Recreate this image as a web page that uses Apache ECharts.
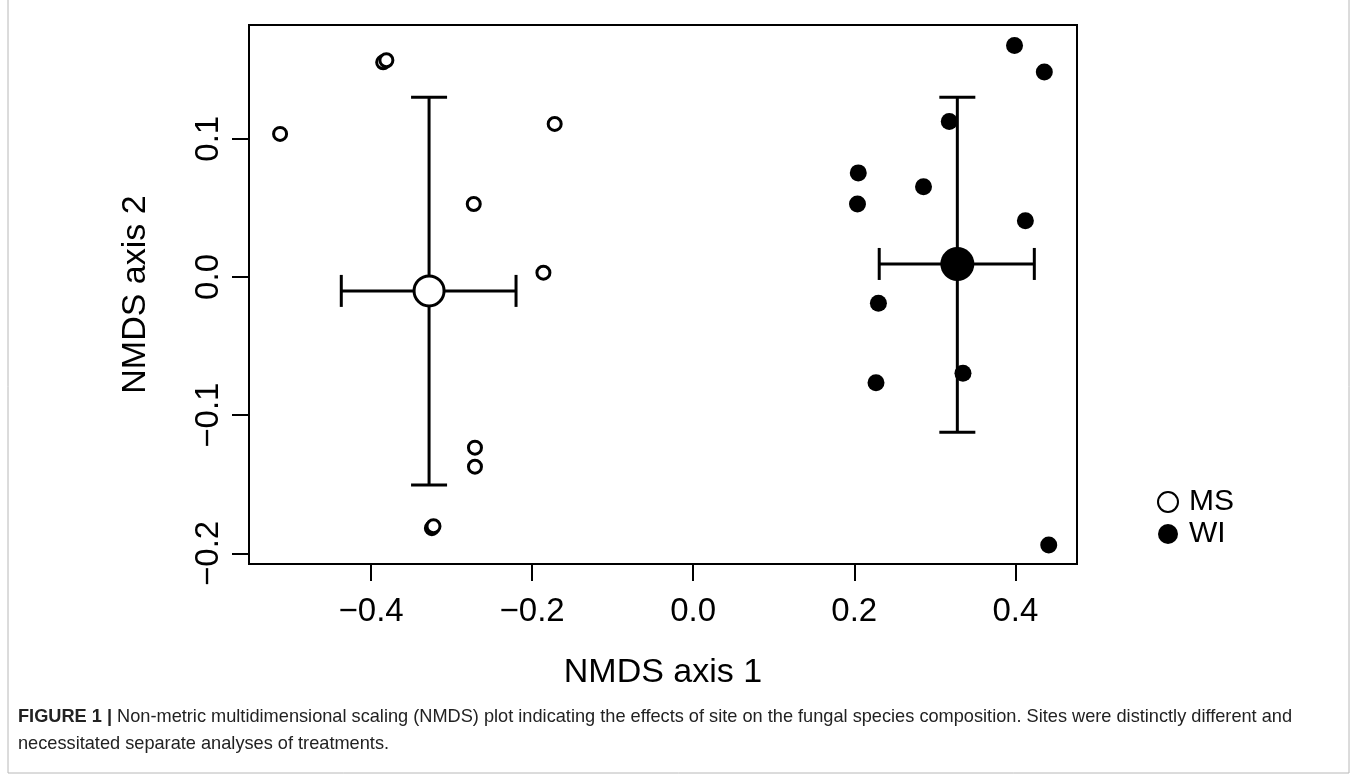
<!DOCTYPE html>
<html>
<head>
<meta charset="utf-8">
<title>NMDS plot</title>
<script src="https://cdn.jsdelivr.net/npm/echarts@6/dist/echarts.min.js"></script>
<style>
  html, body { margin: 0; padding: 0; background: #fff; }
  #chart { width: 1357px; height: 781px; }
</style>
</head>
<body>
<div id="chart"></div>
<script>
// site samples (NMDS scores)
const msX = [-0.513, -0.385, -0.381, -0.172, -0.2725, -0.186, -0.271, -0.271, -0.3245, -0.3225];
const msY = [0.1035, 0.1553, 0.1568, 0.1107, 0.0528, 0.0031, -0.1235, -0.1373, -0.1818, -0.1804];
const wiX = [0.399, 0.436, 0.318, 0.205, 0.204, 0.286, 0.4125, 0.230, 0.227, 0.335, 0.4415];
const wiY = [0.1674, 0.1483, 0.1124, 0.0753, 0.0528, 0.0653, 0.0407, -0.019, -0.0765, -0.0697, -0.194];

// group centroids with error bars
const groups = ['MS', 'WI'];
const centerX = [-0.328, 0.328];
const centerY = [-0.0101, 0.0094];
const xLow = [-0.437, 0.231];
const xHigh = [-0.220, 0.4236];
const yLow = [-0.1505, -0.1124];
const yHigh = [0.130, 0.130];

// axes
const xTicks = [-0.4, -0.2, 0, 0.2, 0.4];
const yTicks = [-0.2, -0.1, 0, 0.1];
const xRange = [-0.5516, 0.4766];
const yRange = [-0.2077, 0.1823];

const FONT = '"Liberation Sans", Arial, Helvetica, sans-serif';
const fmt = (v) => v.toFixed(1).replace('-', '\u2212');

const zip = (a, b) => a.map((v, i) => [v, b[i]]);
const barData = groups.map((g, i) => [centerX[i], centerY[i], xLow[i], xHigh[i], yLow[i], yHigh[i]]);

function renderBars(params, api) {
  const x = api.value(0), y = api.value(1);
  const l = api.coord([api.value(2), y]);
  const r = api.coord([api.value(3), y]);
  const b = api.coord([x, api.value(4)]);
  const t = api.coord([x, api.value(5)]);
  const capW = 18, capH = 16;
  const style = { stroke: '#000', lineWidth: 3 };
  const seg = (x1, y1, x2, y2) => ({ type: 'line', shape: { x1, y1, x2, y2 }, style });
  return {
    type: 'group',
    children: [
      seg(l[0], l[1], r[0], r[1]),
      seg(b[0], b[1], t[0], t[1]),
      seg(l[0], l[1] - capH, l[0], l[1] + capH),
      seg(r[0], r[1] - capH, r[0], r[1] + capH),
      seg(b[0] - capW, b[1], b[0] + capW, b[1]),
      seg(t[0] - capW, t[1], t[0] + capW, t[1]),
    ],
  };
}

const chart = echarts.init(document.getElementById('chart'), null, { renderer: 'canvas' });

chart.setOption({
  animation: false,
  backgroundColor: '#fff',
  textStyle: { fontFamily: FONT },
  grid: {
    show: true,
    left: 249,
    top: 25,
    width: 828,
    height: 539,
    borderColor: '#000',
    borderWidth: 2,
    backgroundColor: 'transparent',
  },
  legend: {
    data: groups,
    orient: 'vertical',
    left: 1152,
    top: 482,
    icon: 'circle',
    itemWidth: 20,
    itemHeight: 20,
    itemGap: 2,
    textStyle: { fontFamily: FONT, fontSize: 30, color: '#000', padding: [0, 0, 0, 6] },
  },
  xAxis: {
    type: 'value',
    min: xRange[0],
    max: xRange[1],
    name: 'NMDS axis 1',
    nameLocation: 'middle',
    nameGap: 92,
    nameTextStyle: { fontFamily: FONT, fontSize: 34, color: '#000' },
    splitLine: { show: false },
    axisLine: { show: false, onZero: false },
    axisTick: {
      show: true,
      length: 17,
      customValues: xTicks,
      lineStyle: { color: '#000', width: 2 },
    },
    axisLabel: {
      customValues: xTicks,
      formatter: fmt,
      margin: 31,
      fontFamily: FONT,
      fontSize: 33,
      color: '#000',
    },
  },
  yAxis: {
    type: 'value',
    min: yRange[0],
    max: yRange[1],
    name: 'NMDS axis 2',
    nameLocation: 'middle',
    nameGap: 96,
    nameRotate: 90,
    nameTextStyle: { fontFamily: FONT, fontSize: 34, color: '#000' },
    splitLine: { show: false },
    axisLine: { show: false, onZero: false },
    axisTick: {
      show: true,
      length: 17,
      customValues: yTicks,
      lineStyle: { color: '#000', width: 2 },
    },
    axisLabel: {
      customValues: yTicks,
      formatter: fmt,
      rotate: 90,
      margin: 24,
      fontFamily: FONT,
      fontSize: 33,
      color: '#000',
    },
  },
  series: [
    {
      name: 'MS',
      type: 'scatter',
      data: zip(msX, msY),
      symbol: 'circle',
      symbolSize: 13,
      itemStyle: { color: '#fff', borderColor: '#000', borderWidth: 3, opacity: 1 },
      z: 3,
    },
    {
      name: 'WI',
      type: 'scatter',
      data: zip(wiX, wiY),
      symbol: 'circle',
      symbolSize: 17,
      itemStyle: { color: '#000', borderColor: '#000', borderWidth: 0, opacity: 1 },
      z: 3,
    },
    {
      name: 'bars',
      type: 'custom',
      data: barData,
      renderItem: renderBars,
      encode: { x: 0, y: 1 },
      z: 4,
    },
    {
      name: 'MS centroid',
      type: 'scatter',
      data: [[centerX[0], centerY[0]]],
      symbol: 'circle',
      symbolSize: 30,
      itemStyle: { color: '#fff', borderColor: '#000', borderWidth: 3, opacity: 1 },
      z: 5,
    },
    {
      name: 'WI centroid',
      type: 'scatter',
      data: [[centerX[1], centerY[1]]],
      symbol: 'circle',
      symbolSize: 34,
      itemStyle: { color: '#000', opacity: 1 },
      z: 5,
    },
  ],
  graphic: [
    {
      type: 'polyline',
      shape: { points: [[8, 0], [8, 773], [1349, 773], [1349, 0]] },
      style: { stroke: '#b8b8b8', lineWidth: 1, fill: null },
      silent: true,
    },
    {
      type: 'text',
      left: 18,
      top: 703,
      style: {
        text: '{b|FIGURE 1 |} Non-metric multidimensional scaling (NMDS) plot indicating the effects of site on the fungal species composition. Sites were distinctly different and\nnecessitated separate analyses of treatments.',
        fontFamily: FONT,
        fontSize: 18.2,
        lineHeight: 27,
        fill: '#222',
        rich: {
          b: { fontFamily: FONT, fontSize: 18.2, fontWeight: 'bold', fill: '#222', lineHeight: 27 },
        },
      },
      silent: true,
    },
  ],
});
</script>
</body>
</html>
